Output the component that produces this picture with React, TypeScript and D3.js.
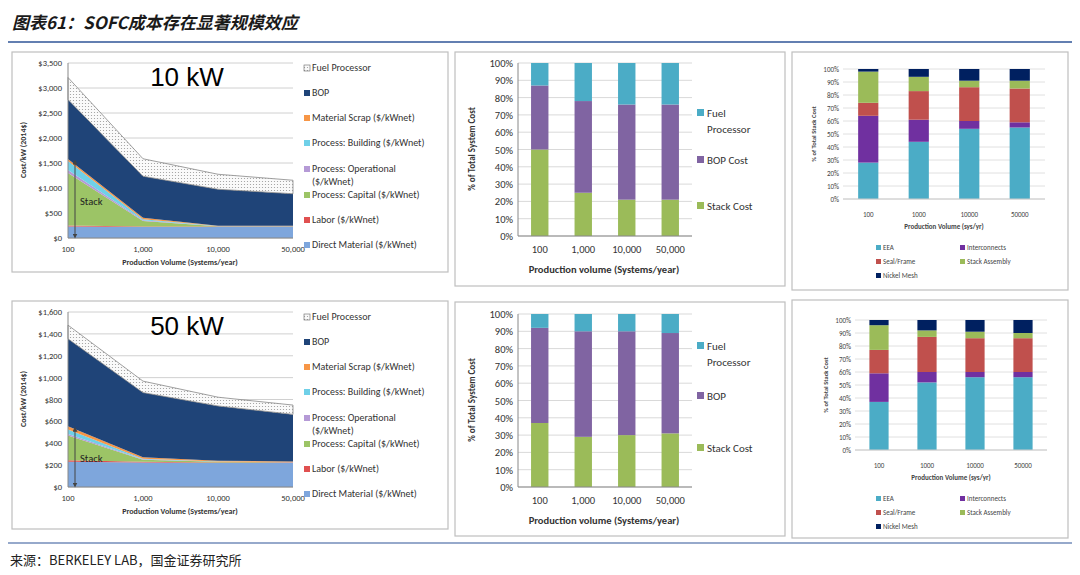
import React from 'react';
import * as d3 from 'd3';

const volumes = ['100', '1,000', '10,000', '50,000'];
const volumesPlain = ['100', '1000', '10000', '50000'];

const areaKeys = ['Direct Material ($/kWnet)', 'Labor ($/kWnet)', 'Process: Capital ($/kWnet)', 'Process: Operational ($/kWnet)', 'Process: Building ($/kWnet)', 'Material Scrap ($/kWnet)', 'BOP', 'Fuel Processor'];
const areaColors = ['#7ea6dc', '#e05050', '#9cc466', '#b59ad6', '#6fd0e8', '#f79646', '#1f4478', 'url(#dots)'];

// $/kW per layer, per production volume
const cost10 = [
  [230, 220, 220, 220],
  [20, 10, 10, 10],
  [1050, 110, 5, 5],
  [60, 15, 2, 2],
  [180, 20, 3, 3],
  [40, 30, 5, 5],
  [1190, 830, 730, 640],
  [440, 350, 300, 270],
];
const cost50 = [
  [230, 225, 220, 220],
  [15, 5, 5, 5],
  [225, 20, 5, 2],
  [15, 3, 1, 1],
  [40, 5, 2, 1],
  [30, 15, 8, 5],
  [800, 590, 500, 430],
  [125, 105, 80, 85],
];

const sysKeys = ['Stack Cost', 'BOP Cost', 'Fuel Processor'];
const sysColors = ['#9bbb59', '#8064a2', '#4bacc6'];
const sys10 = [[50, 25, 21, 21], [37, 53, 55, 55], [13, 22, 24, 24]];
const sys50 = [[37, 29, 30, 31], [55, 61, 60, 58], [8, 10, 10, 11]];

const stackKeys = ['EEA', 'Interconnects', 'Seal/Frame', 'Stack Assembly', 'Nickel Mesh'];
const stackColors = ['#4bacc6', '#7030a0', '#c0504d', '#9bbb59', '#002060'];
const stack10 = [[28, 44, 54, 55], [36, 17, 6, 4], [10, 22, 26, 26], [24, 11, 5, 6], [2, 6, 9, 9]];
const stack50 = [[37, 52, 56, 56], [22, 8, 4, 4], [18, 27, 26, 26], [19, 5, 5, 4], [4, 8, 9, 10]];

const font = 'Calibri, Carlito, "Liberation Sans", Arial, sans-serif';

function Panel({ x, y, w, h }: any) {
  return <rect x={x} y={y} width={w} height={h} fill="#fff" stroke="#bfbfbf" strokeWidth={1.2} />;
}

function AreaChart({ top, data, yMax, step, title, legendTop }: any) {
  const x = d3.scalePoint<string>().domain(volumes).range([68, 293]);
  const y = d3.scaleLinear().domain([0, yMax]).range([top + 175, top]);
  const rows = volumes.map((v, i) => {
    const r: any = { v };
    areaKeys.forEach((k, j) => (r[k] = data[j][i]));
    return r;
  });
  const series = d3.stack<any>().keys(areaKeys)(rows);
  const area = d3.area<any>().x((d) => x(d.data.v)!).y0((d) => y(d[0])).y1((d) => y(d[1]));
  const ticks = d3.range(0, yMax + 1, step);
  const stackTop = series[5][0][1];
  const legY = [0, 25, 50, 75, 101, 127, 152, 177];
  return (
    <g fontFamily={font}>
      {ticks.map((t) => (
        <g key={t}>
          <line x1={68} x2={293} y1={y(t)} y2={y(t)} stroke="#d0d0d0" />
          <text x={62} y={y(t) + 3} fontSize={8.5} textAnchor="end" fill="#333">{d3.format('$,')(t)}</text>
        </g>
      ))}
      {series.map((s, i) => (
        <path key={i} d={area(s)!} fill={areaColors[i]} stroke={i === 7 ? '#888' : 'none'} strokeWidth={0.8} />
      ))}
      <line x1={68} x2={68} y1={top} y2={top + 175} stroke="#888" />
      <line x1={68} x2={293} y1={top + 175} y2={top + 175} stroke="#888" />
      <line x1={75} x2={75} y1={y(0) - 2} y2={y(stackTop) + 3} stroke="#444" markerStart="url(#arr)" markerEnd="url(#arr)" />
      <text x={80} y={y(stackTop * 0.42)} fontSize={10.5} fill="#222">Stack</text>
      <text x={187} y={top + 23} fontSize={26} textAnchor="middle" fontFamily="'Liberation Sans', Arial">{title}</text>
      {volumes.map((v) => (
        <text key={v} x={x(v)} y={top + 189} fontSize={8.5} textAnchor="middle" fill="#333">{v}</text>
      ))}
      <text x={180} y={top + 202} fontSize={8} fontWeight="bold" textAnchor="middle" fill="#333">Production Volume (Systems/year)</text>
      <text transform={`translate(26,${top + 87}) rotate(-90)`} fontSize={8} fontWeight="bold" textAnchor="middle" fill="#333">Cost/kW (2014$)</text>
      {[...areaKeys].reverse().map((k, i) => {
        const ci = 7 - i;
        const ly = legendTop + legY[i];
        const two = k.startsWith('Process: Operational');
        return (
          <g key={k}>
            <rect x={304} y={ly - 6} width={6} height={6} fill={areaColors[ci]} stroke={ci === 7 ? '#666' : 'none'} strokeWidth={0.6} />
            {two ? (
              <text x={312} y={ly} fontSize={10} fill="#333">
                <tspan>Process: Operational</tspan>
                <tspan x={312} dy={12.5}>($/kWnet)</tspan>
              </text>
            ) : (
              <text x={312} y={ly} fontSize={10} fill="#333">{k}</text>
            )}
          </g>
        );
      })}
    </g>
  );
}

function SysBars({ top, data, legend }: any) {
  const x = d3.scaleBand<string>().domain(volumes).range([518, 692]).paddingInner(0.6).paddingOuter(0.3);
  const y = d3.scaleLinear().domain([0, 100]).range([top + 173, top]);
  const rows = volumes.map((v, i) => {
    const r: any = { v };
    sysKeys.forEach((k, j) => (r[k] = data[j][i]));
    return r;
  });
  const series = d3.stack<any>().keys(sysKeys)(rows);
  return (
    <g fontFamily={font}>
      {d3.range(0, 101, 10).map((t) => (
        <g key={t}>
          <line x1={518} x2={692} y1={y(t)} y2={y(t)} stroke="#d9d9d9" />
          <text x={513} y={y(t) + 4} fontSize={10.5} textAnchor="end" fill="#333">{t}%</text>
        </g>
      ))}
      {series.map((s, i) =>
        s.map((d: any) => (
          <rect key={i + d.data.v} x={x(d.data.v)} width={x.bandwidth()} y={y(d[1])} height={y(d[0]) - y(d[1])} fill={sysColors[i]} />
        ))
      )}
      <line x1={518} x2={692} y1={y(0)} y2={y(0)} stroke="#888" />
      <line x1={518} x2={518} y1={top} y2={y(0)} stroke="#888" />
      {volumes.map((v) => (
        <text key={v} x={x(v)! + x.bandwidth() / 2} y={top + 190} fontSize={10.5} textAnchor="middle" fill="#333">{v}</text>
      ))}
      <text x={604} y={top + 210} fontSize={10.5} fontWeight="bold" textAnchor="middle" fill="#333">Production volume (Systems/year)</text>
      <text transform={`translate(475,${top + 86}) rotate(-90)`} fontSize={9} fontWeight="bold" textAnchor="middle" fill="#333">% of Total System Cost</text>
      {legend.map((l: any, i: number) => (
        <g key={i}>
          <rect x={697} y={top + l.y - 8} width={7} height={7} fill={sysColors[2 - i]} />
          <text x={707} y={top + l.y} fontSize={11} fill="#333">
            {l.t.map((t: string, j: number) => (
              <tspan key={j} x={707} dy={j ? 16 : 0}>{t}</tspan>
            ))}
          </text>
        </g>
      ))}
    </g>
  );
}

function StackBars({ top, data, x0, x1 }: any) {
  const x = d3.scaleBand<string>().domain(volumesPlain).range([x0, x1]).paddingInner(0.6).paddingOuter(0.3);
  const y = d3.scaleLinear().domain([0, 100]).range([top + 130, top]);
  const rows = volumesPlain.map((v, i) => {
    const r: any = { v };
    stackKeys.forEach((k, j) => (r[k] = data[j][i]));
    return r;
  });
  const series = d3.stack<any>().keys(stackKeys)(rows);
  const leg = [[0, 0], [1, 0], [0, 1], [1, 1], [0, 2]];
  return (
    <g fontFamily={font}>
      {d3.range(0, 101, 10).map((t) => (
        <g key={t}>
          <line x1={x0} x2={x1} y1={y(t)} y2={y(t)} stroke="#e0e0e0" />
          <text x={x0 - 4} y={y(t) + 2.5} fontSize={7} textAnchor="end" fill="#444">{t}%</text>
        </g>
      ))}
      {series.map((s, i) =>
        s.map((d: any) => (
          <rect key={i + d.data.v} x={x(d.data.v)} width={x.bandwidth()} y={y(d[1])} height={y(d[0]) - y(d[1])} fill={stackColors[i]} />
        ))
      )}
      <line x1={x0} x2={x1} y1={y(0)} y2={y(0)} stroke="#ccc" />
      {volumesPlain.map((v) => (
        <text key={v} x={x(v)! + x.bandwidth() / 2} y={top + 148} fontSize={7} textAnchor="middle" fill="#444">{v}</text>
      ))}
      <text x={(x0 + x1) / 2} y={top + 160} fontSize={7} fontWeight="bold" textAnchor="middle" fill="#444">Production Volume (sys/yr)</text>
      <text transform={`translate(${x0 - 27},${top + 65}) rotate(-90)`} fontSize={6.5} fontWeight="bold" textAnchor="middle" fill="#444">% of Total Stack Cost</text>
      {stackKeys.map((k, i) => {
        const lx = 876 + leg[i][0] * 84;
        const ly = top + 181 + leg[i][1] * 14;
        return (
          <g key={k}>
            <rect x={lx} y={ly - 5} width={5} height={5} fill={stackColors[i]} />
            <text x={lx + 7} y={ly} fontSize={7} fill="#444">{k}</text>
          </g>
        );
      })}
    </g>
  );
}

export default function App() {
  return (
    <svg width={1080} height={575} style={{ position: 'fixed', left: 0, top: 0 }}>
      <defs>
        <pattern id="dots" width={3} height={3} patternUnits="userSpaceOnUse">
          <rect width={3} height={3} fill="#fafafa" />
          <circle cx={1.5} cy={1.5} r={0.6} fill="#999" />
        </pattern>
        <marker id="arr" viewBox="0 0 10 10" refX={5} refY={5} markerWidth={5} markerHeight={5} orient="auto-start-reverse">
          <path d="M0,0 L10,5 L0,10 z" fill="#444" />
        </marker>
      </defs>
      <rect width={1080} height={575} fill="#fff" />
      <text x={12} y={29} fontSize={17} fontWeight="bold" fontStyle="italic" fill="#1a1a1a" fontFamily="'Noto Sans CJK SC', sans-serif">图表61：SOFC成本存在显著规模效应</text>
      <line x1={8} x2={1072} y1={42} y2={42} stroke="#2f5597" strokeWidth={1.5} />
      <Panel x={12} y={52} w={436} h={220} />
      <Panel x={455} y={52} w={330} h={234} />
      <Panel x={792} y={52} w={276} h={238} />
      <Panel x={12} y={301} w={436} h={228} />
      <Panel x={455} y={302} w={330} h={234} />
      <Panel x={792} y={300} w={276} h={238} />
      <AreaChart top={63} data={cost10} yMax={3500} step={500} title="10 kW" legendTop={71} />
      <AreaChart top={312} data={cost50} yMax={1600} step={200} title="50 kW" legendTop={320} />
      <SysBars top={63} data={sys10} legend={[{ y: 54, t: ['Fuel', 'Processor'] }, { y: 101, t: ['BOP Cost'] }, { y: 147, t: ['Stack Cost'] }]} />
      <SysBars top={314} data={sys50} legend={[{ y: 36, t: ['Fuel', 'Processor'] }, { y: 86, t: ['BOP'] }, { y: 138, t: ['Stack Cost'] }]} />
      <StackBars top={69} data={stack10} x0={843} x1={1045} />
      <StackBars top={320} data={stack50} x0={855} x1={1047} />
      <line x1={8} x2={1072} y1={543} y2={543} stroke="#2f5597" strokeWidth={1.2} />
      <text x={10} y={565} fontSize={13} fill="#222" fontFamily="'Noto Sans CJK SC', sans-serif">来源：BERKELEY LAB，国金证券研究所</text>
    </svg>
  );
}
